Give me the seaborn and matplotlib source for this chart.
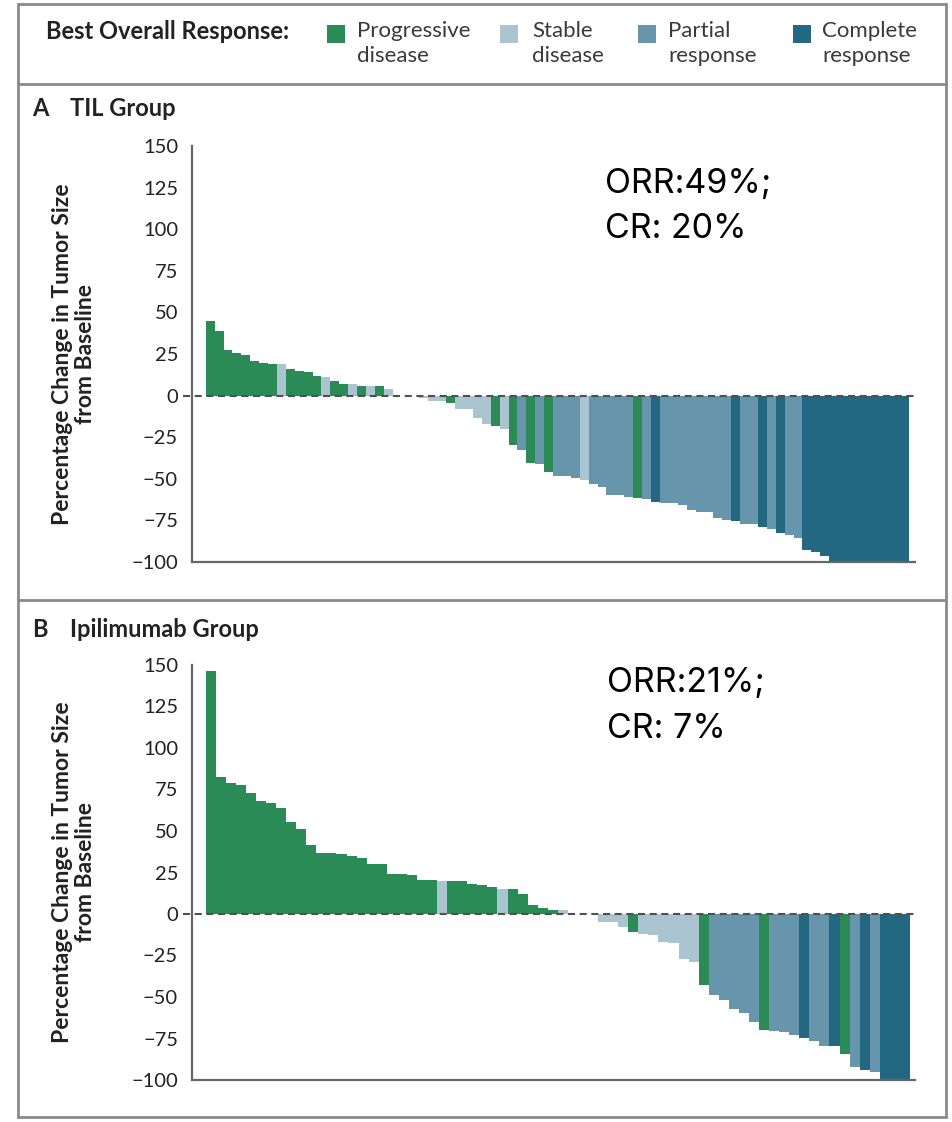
import numpy as np
import pandas as pd
import seaborn as sns
import matplotlib.pyplot as plt
from matplotlib.patches import Rectangle
from matplotlib.lines import Line2D

# ---- data -------------------------------------------------------------
RESPONSE_CODES = ["PD", "SD", "PR", "CR"]
LEGEND_LABELS = ["Progressive\ndisease", "Stable\ndisease", "Partial\nresponse", "Complete\nresponse"]
COLORS = ["#2a8b57", "#aac4d0", "#6796ac", "#236780"]

til_change = [45, 39, 27.6, 25.6, 24.6, 20.8, 19.8, 18.8, 18.8, 16, 15, 14, 12, 11, 9, 7.2, 7.2,
              6, 6, 6, 4.2, 0, 0, 0, -1.2, -3, -3.4, -4.2, -8.2, -8.2, -13.4, -16.8, -18.2, -20.2,
              -29.8, -32.8, -40.4, -41.4, -46.2, -48.2, -48.2, -49.8, -51, -53, -54.8, -59.8, -59.8,
              -60.8, -61.4, -62, -63.8, -64.8, -64.8, -65.6, -68.6, -70, -70, -73.6, -74.6, -75.6,
              -77.4, -77.4, -78.8, -80.4, -82.8, -84, -85.6, -93, -94, -96.6,
              -100, -100, -100, -100, -100, -100, -100, -100, -100]
til_response = ["PD", "PD", "PD", "PD", "PD", "PD", "PD", "PD", "SD", "PD", "PD", "PD", "PD", "SD",
                "PD", "PD", "SD", "PD", "SD", "PD", "SD", "SD", "SD", "SD", "SD", "SD", "SD", "PD",
                "SD", "SD", "SD", "SD", "PD", "SD", "PD", "PR", "PD", "PR", "PD", "PR", "PR", "PR",
                "SD", "PR", "PR", "PR", "PR", "PR", "PD", "PR", "CR", "PR", "PR", "PR", "PR", "PR",
                "PR", "PR", "PR", "CR", "PR", "PR", "CR", "PR", "CR", "PR", "PR", "CR", "CR", "CR",
                "CR", "CR", "CR", "CR", "CR", "CR", "CR", "CR", "CR"]

ipi_change = [146.4, 82.4, 78.8, 77.6, 72.8, 68, 66.8, 64, 55.2, 51.2, 41.6, 36.8, 36.8, 36, 34.8,
              33.6, 30, 30, 24, 24, 23.2, 20.4, 20.4, 20, 20, 20, 18.2, 17.2, 16.2, 15.2, 15.2,
              12.2, 5.6, 3.6, 2.6, 2.6, 0, 0, 0, -5, -5, -7.8, -10.8, -11.8, -12.8, -16.8, -17.6,
              -27.4, -29.2, -42.8, -48.6, -51.6, -57.4, -59.4, -65.2, -70, -70.2, -71, -73, -74.8,
              -76.8, -79.6, -79.6, -84.4, -92.2, -94, -95, -100, -100, -100]
ipi_response = ["PD", "PD", "PD", "PD", "PD", "PD", "PD", "PD", "PD", "PD", "PD", "PD", "PD", "PD",
                "PD", "PD", "PD", "PD", "PD", "PD", "PD", "PD", "PD", "SD", "PD", "PD", "PD", "PD",
                "PD", "SD", "PD", "PD", "PD", "PD", "PD", "SD", "SD", "SD", "SD", "SD", "SD", "SD",
                "PD", "SD", "SD", "SD", "SD", "SD", "SD", "PD", "PR", "PR", "PR", "PR", "PR", "PD",
                "PR", "PR", "PR", "CR", "PR", "PR", "CR", "PD", "PR", "CR", "PR", "CR", "CR", "CR"]

y_ticks = [-100, -75, -50, -25, 0, 25, 50, 75, 100, 125, 150]

panel_titles = [("A", "TIL Group"), ("B", "Ipilimumab Group")]
rate_texts = [("ORR:49%;", "CR: 20%"), ("ORR:21%;", "CR: 7%")]

# ---- style --------------------------------------------------------------
sns.set_style("white")
plt.rcParams["font.family"] = ["Lato", "DejaVu Sans"]
TEXT = "#222222"
AXIS = "#666666"
FRAME = "#8a8a8a"

W, H = 953, 1122
fig = plt.figure(figsize=(W / 100, H / 100), dpi=100)


def fx(px):
    return px / W


def fy(py):
    return 1 - py / H


palette = dict(zip(RESPONSE_CODES, COLORS))

# outer frame and separators
fig.add_artist(Rectangle((fx(18), fy(1117)), fx(946) - fx(18), fy(4) - fy(1117),
                         transform=fig.transFigure, fill=False, ec=FRAME, lw=2.0))
for yy in (84, 600):
    fig.add_artist(Line2D([fx(18), fx(946)], [fy(yy), fy(yy)], transform=fig.transFigure,
                          color=FRAME, lw=2.0))

# legend header
fig.text(fx(46), fy(39), "Best Overall Response:", fontsize=17, fontweight="bold",
         color=TEXT, va="baseline", ha="left")
legend_x = [(327, 357), (500, 532), (638, 668), (793, 822)]
for (px, tx), lab, col in zip(legend_x, LEGEND_LABELS, COLORS):
    fig.add_artist(Rectangle((fx(px), fy(43)), fx(18), 18 / H, transform=fig.transFigure,
                             color=col, lw=0))
    fig.text(fx(tx), fy(21), lab, fontsize=16, color="#3a3a3a", va="top", ha="left",
             linespacing=1.32)

panels = [
    dict(change=til_change, response=til_response, top=146, bottom=562, xlim=(-2.04, 79.14),
         title_y=116, rate_y=(193, 238), rate_x=605),
    dict(change=ipi_change, response=ipi_response, top=665, bottom=1080, xlim=(-1.86, 70.0),
         title_y=637, rate_y=(692, 738), rate_x=607),
]

for p, (letter, title), (r1, r2) in zip(panels, panel_titles, rate_texts):
    n = len(p["change"])
    df = pd.DataFrame({"patient": np.arange(n), "change": p["change"], "response": p["response"]})
    ax = fig.add_axes([fx(192), fy(p["bottom"]), (915 - 192) / W, (p["bottom"] - p["top"]) / H])
    sns.barplot(data=df, x="patient", y="change", hue="response", hue_order=RESPONSE_CODES,
                palette=palette, dodge=False, width=1.0, saturation=1, errorbar=None,
                linewidth=0, legend=False, ax=ax, zorder=2)
    ax.set_xlim(*p["xlim"])
    ax.set_ylim(-100, 150)
    ax.set_yticks(y_ticks)
    ax.set_xticks([])
    ax.set_xlabel("")
    ax.set_ylabel("")
    sns.despine(ax=ax, top=True, right=True)
    for side in ("left", "bottom"):
        ax.spines[side].set_color(AXIS)
        ax.spines[side].set_linewidth(1.6)
    ax.tick_params(axis="y", length=8, width=1.4, color=AXIS, labelsize=14.5,
                   labelcolor=TEXT, pad=2)
    ax.axhline(0, xmin=-0.012, xmax=1.0, color="#505050", lw=1.5, ls=(0, (3.4, 2.2)),
               zorder=3, clip_on=False)

    # y-axis title
    mid = (p["top"] + p["bottom"]) / 2
    fig.text(fx(74), fy(mid), "Percentage Change in Tumor Size\nfrom Baseline", rotation=90,
             ha="center", va="center", multialignment="center", fontsize=16.5,
             fontweight="bold", color=TEXT, linespacing=1.08)

    # panel title
    fig.text(fx(32), fy(p["title_y"]), letter, fontsize=17, fontweight="bold", color=TEXT,
             va="baseline")
    fig.text(fx(70), fy(p["title_y"]), title, fontsize=17, fontweight="bold", color=TEXT,
             va="baseline")

    # response rates
    for line, yy in zip((r1, r2), p["rate_y"]):
        fig.text(fx(p["rate_x"]), fy(yy), line, fontsize=24.5, family=["Inter", "DejaVu Sans"],
                 color="black", va="baseline", ha="left")

fig.savefig("out.png", dpi=100, facecolor="white")
